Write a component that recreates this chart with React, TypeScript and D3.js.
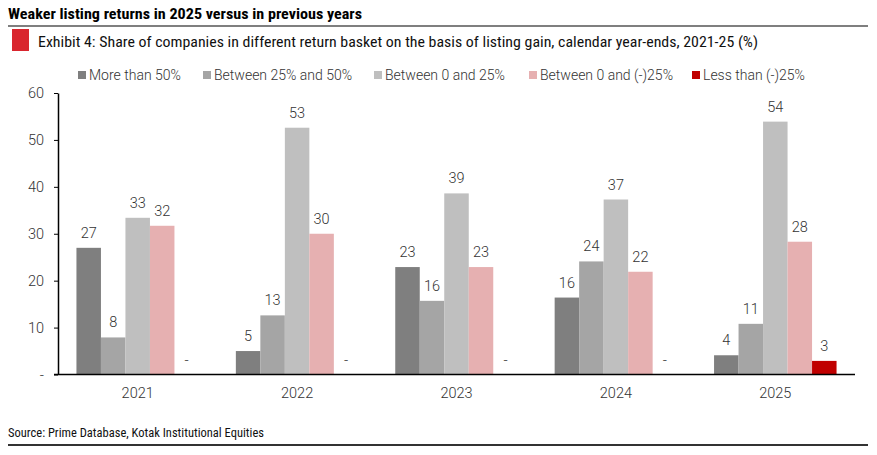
import React, { useEffect, useRef } from 'react';
import * as d3 from 'd3';

const years = ['2021', '2022', '2023', '2024', '2025'];
const seriesNames = ['More than 50%', 'Between 25% and 50%', 'Between 0 and 25%', 'Between 0 and (-)25%', 'Less than (-)25%'];
const moreThan50 = [27.0, 5.0, 22.9, 16.4, 4.1];
const between25and50 = [7.9, 12.6, 15.7, 24.1, 10.8];
const between0and25 = [33.4, 52.6, 38.6, 37.3, 53.9];
const between0andNeg25 = [31.7, 30.0, 22.9, 21.9, 28.3];
const lessThanNeg25: (number | null)[] = [null, null, null, null, 2.9];
const seriesColors = ['#7f7f7f', '#a5a5a5', '#bfbfbf', '#e6b0b1', '#c00000'];
const yTicks = [0, 10, 20, 30, 40, 50, 60];

const allSeries: (number | null)[][] = [moreThan50, between25and50, between0and25, between0andNeg25, lessThanNeg25];

const W = 877;
const H = 455;
const condensed = '"Roboto Condensed", "Liberation Sans Narrow", "DejaVu Sans Condensed", sans-serif';
const sans = 'Roboto, "Noto Sans", sans-serif';

export default function App() {
  const svgRef = useRef<SVGSVGElement>(null);

  useEffect(() => {
    if (!svgRef.current) return;
    const svg = d3.select(svgRef.current);
    svg.selectAll('*').remove();

    const left = 58, right = 855, top = 93, bottom = 374.5;

    // header
    svg.append('text')
      .attr('x', 8).attr('y', 19)
      .attr('font-family', condensed).attr('font-weight', 700).attr('font-size', 15)
      .attr('fill', '#000')
      .attr('textLength', 354).attr('lengthAdjust', 'spacingAndGlyphs')
      .text('Weaker listing returns in 2025 versus in previous years');
    svg.append('line')
      .attr('x1', 8).attr('x2', 868).attr('y1', 26).attr('y2', 26)
      .attr('stroke', '#000').attr('stroke-width', 1.2);
    svg.append('rect')
      .attr('x', 12).attr('y', 29).attr('width', 17).attr('height', 22)
      .attr('fill', '#d9262e');
    svg.append('text')
      .attr('x', 38).attr('y', 47)
      .attr('font-family', condensed).attr('font-size', 15)
      .attr('fill', '#111')
      .attr('textLength', 720).attr('lengthAdjust', 'spacingAndGlyphs')
      .text('Exhibit 4: Share of companies in different return basket on the basis of listing gain, calendar year-ends, 2021-25 (%)');

    // legend
    const legendX = [78, 203, 374, 529, 692];
    const leg = svg.append('g');
    seriesNames.forEach((name, i) => {
      leg.append('rect')
        .attr('x', legendX[i]).attr('y', 71).attr('width', 8).attr('height', 8)
        .attr('fill', seriesColors[i]);
      leg.append('text')
        .attr('x', legendX[i] + 11).attr('y', 80)
        .attr('font-family', sans).attr('font-weight', 300).attr('font-size', 14).attr('fill', '#333')
        .text(name);
    });

    const x0 = d3.scaleBand<string>().domain(years).range([left, right]);
    const groupW = 122.5;
    const x1 = d3.scaleBand<string>()
      .domain(seriesNames)
      .range([(x0.bandwidth() - groupW) / 2, (x0.bandwidth() + groupW) / 2]);
    const y = d3.scaleLinear().domain([0, 60]).range([bottom, top]);

    const g = svg.append('g');

    // bars + labels
    years.forEach((yr, yi) => {
      seriesNames.forEach((name, si) => {
        const v = allSeries[si][yi];
        const bx = (x0(yr) ?? 0) + (x1(name) ?? 0);
        if (v != null) {
          g.append('rect')
            .attr('x', bx).attr('y', y(v))
            .attr('width', x1.bandwidth()).attr('height', y(0) - y(v))
            .attr('fill', seriesColors[si]);
        }
        g.append('text')
          .attr('x', bx + x1.bandwidth() / 2)
          .attr('y', y(v ?? 0) - 10)
          .attr('text-anchor', 'middle')
          .attr('font-family', sans).attr('font-weight', 300).attr('font-size', 14.5).attr('fill', '#333')
          .text(v == null ? '-' : d3.format('.0f')(v));
      });
    });

    // y axis
    const yAxis = svg.append('g')
      .attr('transform', `translate(${left},0)`)
      .call(d3.axisLeft(y).tickValues(yTicks).tickSize(4).tickSizeOuter(0)
        .tickFormat(d => (+d === 0 ? '-' : String(d))));
    yAxis.select('.domain').attr('stroke', '#000').attr('stroke-width', 1.5);
    yAxis.selectAll('.tick line').attr('stroke', '#000');
    yAxis.selectAll('.tick text')
      .attr('x', -14)
      .attr('font-family', sans).attr('font-weight', 300).attr('font-size', 14.5).attr('fill', '#333');

    // x axis
    const xAxis = svg.append('g')
      .attr('transform', `translate(0,${bottom})`)
      .call(d3.axisBottom(x0).tickSize(0).tickSizeOuter(0));
    xAxis.select('.domain').attr('stroke', '#000').attr('stroke-width', 1.5)
      .attr('d', `M${left - 4},0H${right}`);
    xAxis.selectAll('.tick text')
      .attr('dy', 0).attr('y', 23)
      .attr('font-family', sans).attr('font-weight', 300).attr('font-size', 14.5).attr('fill', '#333');

    // source
    svg.append('text')
      .attr('x', 8).attr('y', 437)
      .attr('font-family', condensed).attr('font-size', 12).attr('fill', '#111')
      .attr('textLength', 256).attr('lengthAdjust', 'spacingAndGlyphs')
      .text('Source: Prime Database, Kotak Institutional Equities');
    svg.append('line')
      .attr('x1', 8).attr('x2', 868).attr('y1', 445).attr('y2', 445)
      .attr('stroke', '#333').attr('stroke-width', 2);
  }, []);

  return (
    <div style={{ position: 'absolute', left: 0, top: 0, width: W, height: H, background: '#fff' }}>
      <svg ref={svgRef} width={W} height={H} />
    </div>
  );
}
